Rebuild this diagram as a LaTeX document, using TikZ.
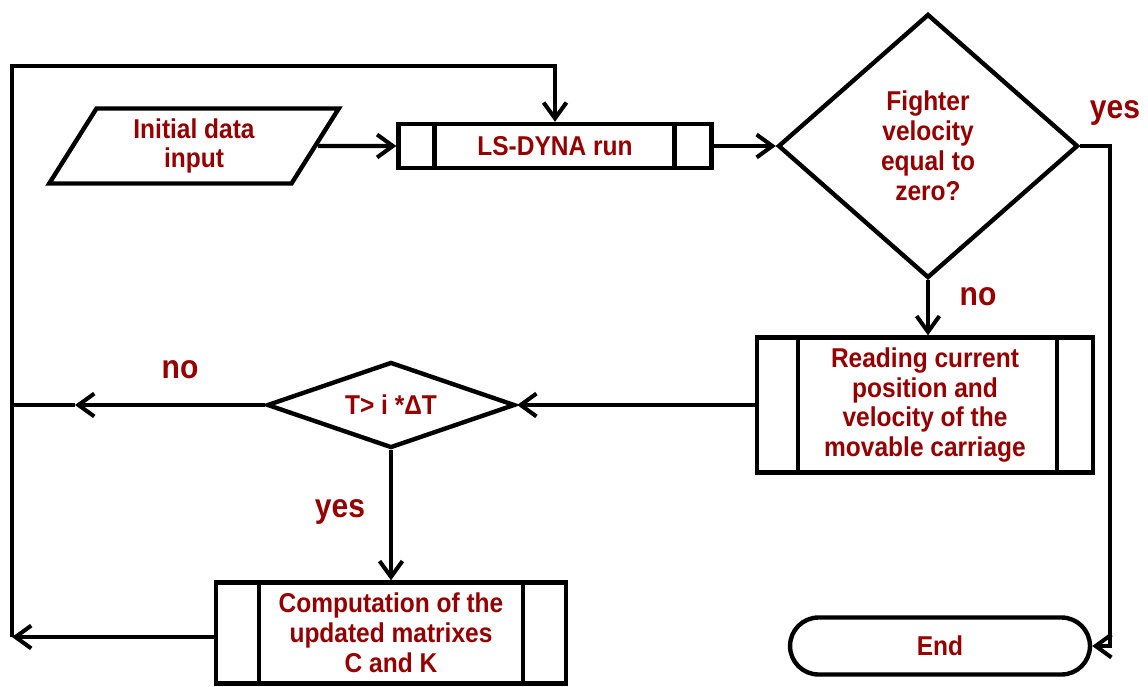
\documentclass[tikz,border=0pt]{standalone}
\usepackage{fontspec}
\setmainfont{Liberation Sans}[FakeStretch=0.9]
\usepackage{tikz}
\usetikzlibrary{shapes.geometric}
\usetikzlibrary{shapes.misc}
\usetikzlibrary{arrows.meta}
\definecolor{bordeaux}{RGB}{150,0,0}
\tikzset{
  flow/.style={
    box/.style={draw, line width=2.5pt, text=bordeaux, align=center, inner sep=0pt,
        font={\fontsize{15.5}{17}\selectfont\bfseries}},
    io/.style={box, trapezium, trapezium left angle=62, trapezium right angle=118,
        trapezium stretches=true},
    process/.style={box, rectangle},
    decision/.style={box, diamond},
    terminal/.style={box, rounded rectangle},
    branch label/.style={text=bordeaux, font={\fontsize{19}{21}\selectfont\bfseries}},
    flow line/.style={line width=2.3pt, -{Straight Barb[length=9pt,width=13pt]}},
    plain line/.style={line width=2.3pt},
  }
}
\newcommand{\sidebars}[3]{
    \draw[line width=2.5pt] ([xshift=#2]#1.north west) -- ([xshift=#2]#1.south west);
    \draw[line width=2.5pt] ([xshift=-#3]#1.north east) -- ([xshift=-#3]#1.south east);
}

\begin{document}
\begin{tikzpicture}[flow, x=0.02cm, y=-0.02cm]
    \useasboundingbox (0,0) rectangle (1148,686);

    \node[io, minimum width=5.8cm, minimum height=1.5cm] (inp) at (194,146) {Initial data\\input};
    \node[process, minimum width=6.26cm, minimum height=0.88cm] (ls) at (555,146) {LS-DYNA run};
    \node[decision, shape aspect=1.14, minimum width=6cm, minimum height=5.28cm] (fight) at (928,146)
        {Fighter\\velocity\\equal to\\zero?};
    \node[process, minimum width=6.72cm, minimum height=2.7cm] (read) at (925,405)
        {Reading current\\position and\\velocity of the\\movable carriage};
    \node[decision, shape aspect=2.9, minimum width=4.96cm, minimum height=1.72cm] (test) at (391,405)
        {T> i *ΔT};
    \node[process, minimum width=7cm, minimum height=2.02cm] (comp) at (391,633)
        {Computation of the\\updated matrixes\\C and K};
    \node[terminal, minimum width=6cm, minimum height=1.14cm] (finish) at (940,646) {End};

    \sidebars{ls}{0.76cm}{0.78cm}
    \sidebars{read}{0.86cm}{0.76cm}
    \sidebars{comp}{0.9cm}{0.9cm}

    \coordinate (yescorner) at (1110,146);
    \coordinate (looptop) at (12,66);
    \coordinate (loopmid) at (12,405);
    \coordinate (loopbot) at (12,637);
    \coordinate (noarrow) at (75,405);

    \draw[flow line] (inp.east) -- (ls.west);
    \draw[flow line] (ls.east) -- (fight.west);
    \draw[flow line] (fight.east) -- (yescorner) |- (finish.east);
    \draw[flow line] (fight.south) -- (fight.south |- read.north);
    \draw[flow line] (read.west) -- (test.east);
    \draw[flow line] (test.west) -- (noarrow);
    \draw[plain line] (noarrow) -- (loopmid);
    \draw[flow line] (test.south) -- (comp.north);
    \draw[flow line] (comp.west |- loopbot) -- (loopbot);
    \draw[flow line] (loopbot) -- (looptop) -| (ls.north);

    \node[branch label] (yesend) at (1115,113) {yes};
    \node[branch label] (noread) at (978,297) {no};
    \node[branch label] (noloop) at (180,370) {no};
    \node[branch label] (yescomp) at (340,512) {yes};
\end{tikzpicture}
\end{document}
